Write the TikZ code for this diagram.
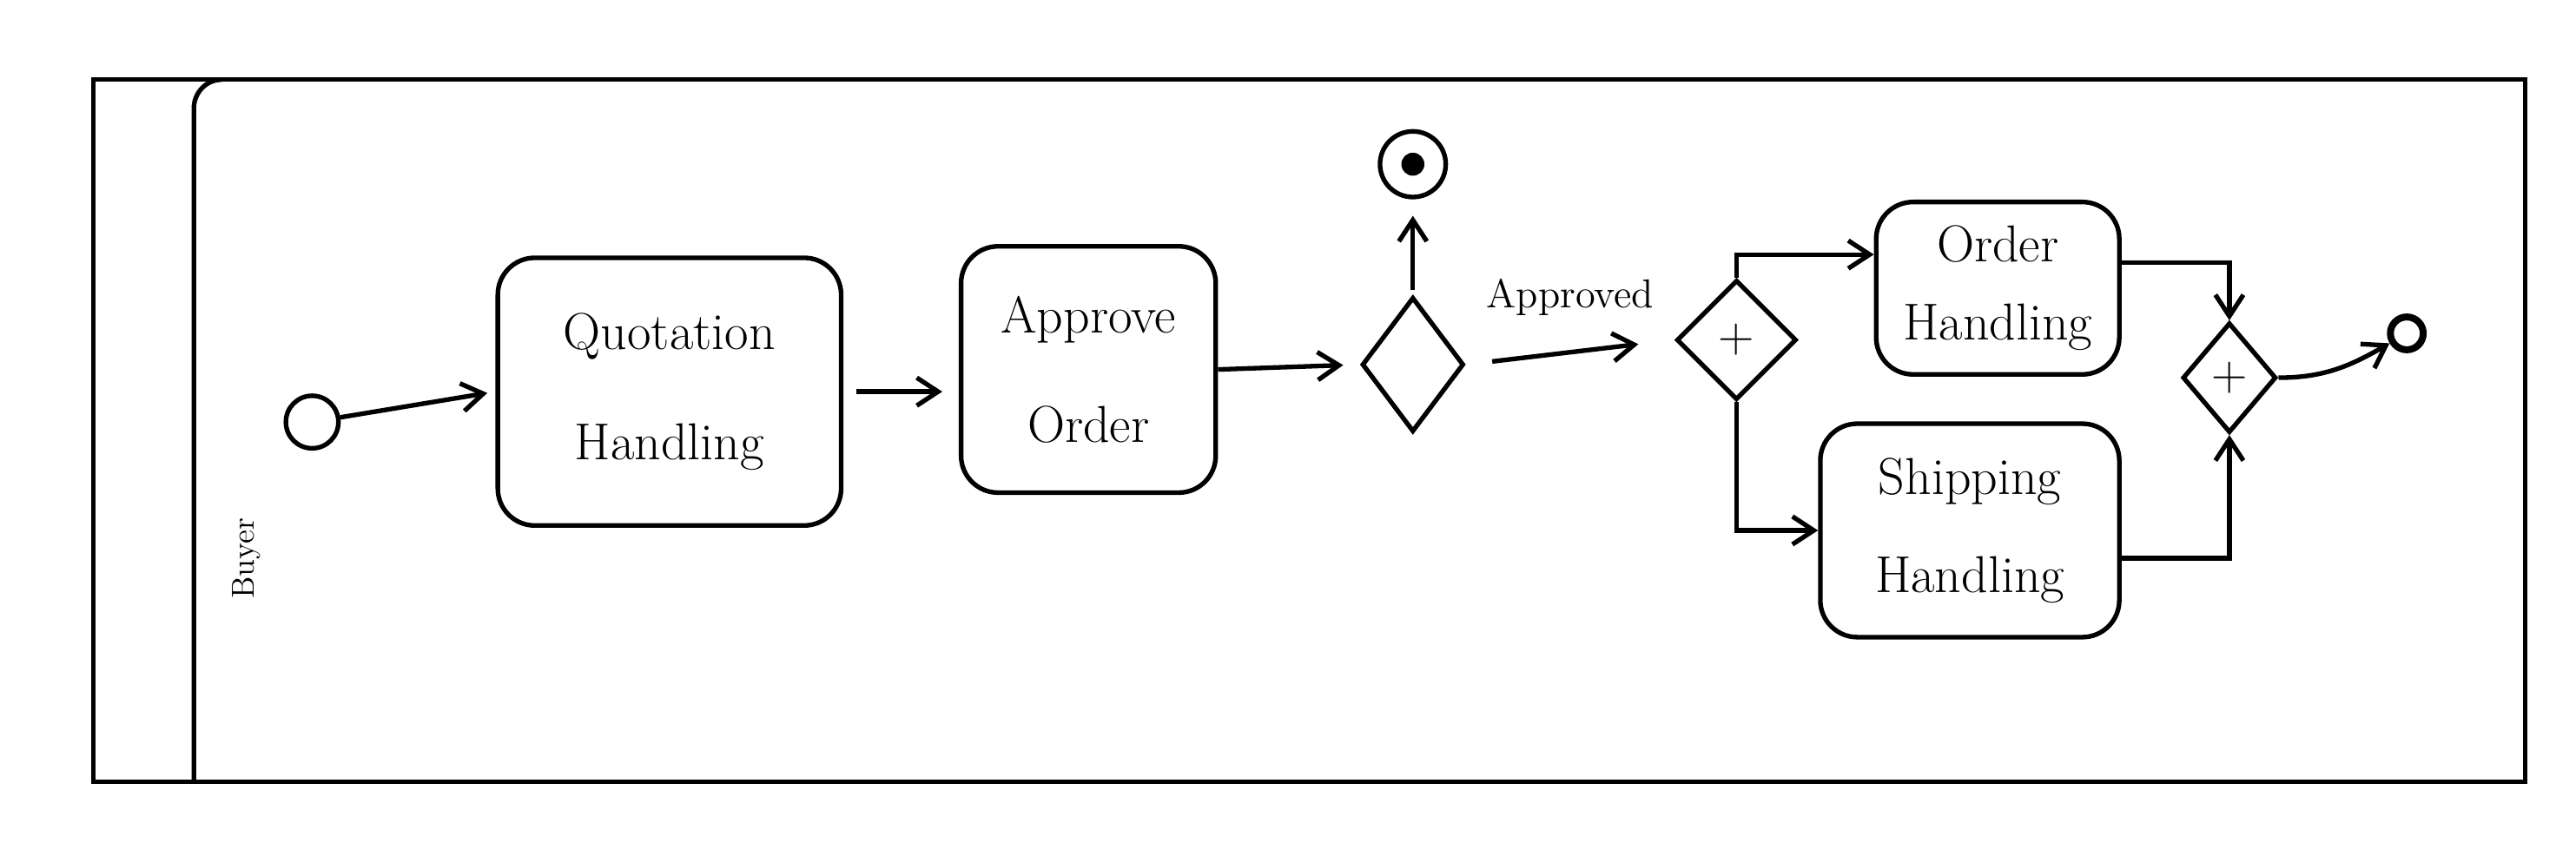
\documentclass[tikz,border=0pt]{standalone}
\usetikzlibrary{arrows.meta}
\usetikzlibrary{calc}
\usetikzlibrary{shapes.geometric}
\tikzset{>={Straight Barb[length=2.6mm,width=3.4mm]}}
\definecolor{sketchink}{RGB}{0,0,0}
\tikzstyle{inkline}=[draw=sketchink,line width=1.6pt]
\tikzstyle{task}=[inkline,rounded corners=0.45cm,align=center,font=\fontsize{18}{38}\selectfont]
\tikzstyle{gateway}=[inkline,diamond,inner sep=0pt]
\tikzstyle{event}=[inkline,circle,inner sep=0pt]
\tikzstyle{flow}=[inkline,->]

\begin{document}
\begin{tikzpicture}
    \useasboundingbox (0,0) rectangle (31.36,10.42);

    % Pool and lane header
    \draw[inkline] (1.14,0.9) rectangle (30.74,9.45);
    \draw[inkline] (2.36,0.9) -- (2.36,9.1) to[out=90,in=180] (2.7,9.45);
    \node[rotate=90,font=\fontsize{11}{13}\selectfont] (lane) at (3.0,3.62) {Buyer};

    % Events
    \node[event,minimum size=0.64cm] (start) at (3.8,5.28) {};
    \node[event,minimum size=0.8cm] (stop) at (17.2,8.42) {};
    \fill[sketchink] (stop.center) circle (0.14cm);
    \node[event,line width=2.4pt,minimum size=0.4cm] (finish) at (29.3,6.36) {};

    % Tasks
    \node[task,minimum width=4.18cm,minimum height=3.26cm] (quote) at (8.15,5.65) {Quotation\\Handling};
    \node[task,minimum width=3.1cm,minimum height=3cm] (approve) at (13.25,5.92) {Approve\\Order};
    \node[task,minimum width=2.96cm,minimum height=2.1cm,font=\fontsize{18}{27}\selectfont] (order) at (24.32,6.91) {Order\\Handling};
    \node[task,minimum width=3.64cm,minimum height=2.6cm,font=\fontsize{18}{34}\selectfont] (ship) at (23.98,3.96) {Shipping\\Handling};

    % Gateways
    \node[gateway,minimum width=1.24cm,minimum height=1.64cm] (choice) at (17.2,5.98) {};
    \node[gateway,minimum size=1.46cm,font=\fontsize{18}{20}\selectfont] (split) at (21.14,6.28) {$+$};
    \node[gateway,minimum width=1.14cm,minimum height=1.34cm,font=\fontsize{18}{20}\selectfont] (join) at (27.14,5.82) {$+$};

    % Sequence flows
    \draw[flow,shorten >=0.1cm] (start) -- (quote.west);
    \draw[flow,shorten <=0.16cm,shorten >=0.2cm] (quote.east) -- (approve.west |- quote.east);
    \draw[flow,shorten >=0.2cm] (approve.east) -- (choice.west);
    \draw[flow,shorten <=0.06cm,shorten >=0.2cm] (choice.north) -- (stop.south);
    \draw[flow,shorten <=0.32cm,shorten >=0.44cm] (choice.east) -- (split.west)
        node[midway,above=0.3cm,font=\fontsize{14}{17}\selectfont] (approved) {Approved};
    \draw[flow] (split.north) |- ($(order.west)+(0,0.41)$);
    \draw[flow] (split.south) |- (ship.west);
    \draw[flow] ($(order.east)+(0,0.31)$) -| (join.north);
    \draw[flow] ($(ship.east)+(0,-0.34)$) -| (join.south);
    \draw[flow] (join.east) to[out=0,in=210] (finish);
\end{tikzpicture}
\end{document}
